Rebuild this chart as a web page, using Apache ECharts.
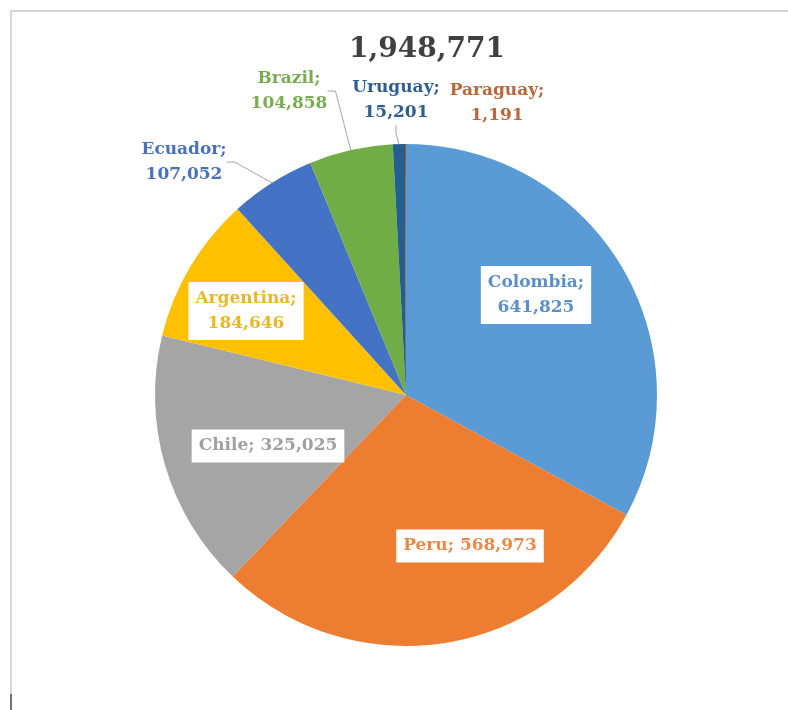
<!DOCTYPE html>
<html><head><meta charset="utf-8">
<script src="https://cdn.jsdelivr.net/npm/echarts@6/dist/echarts.min.js"></script>
<style>html,body{margin:0;padding:0;background:#fff}#c{width:788px;height:710px}</style>
</head><body><div id="c"></div>
<script>
// ---- data ----
const categories = ['Colombia', 'Peru', 'Chile', 'Argentina', 'Ecuador', 'Brazil', 'Uruguay', 'Paraguay'];
const values = [641825, 568973, 325025, 184646, 107052, 104858, 15201, 1191];
const totalText = '1,948,771';

// ---- styles ----
const sliceColors = ['#5B9BD5', '#ED7D31', '#A5A5A5', '#FFC000', '#4472C4', '#70AD47', '#255E91', '#9E480E'];
const textColors  = ['#5B8FC8', '#E98A4A', '#A0A0A0', '#E8B828', '#4A72BA', '#79AD52', '#2F5F8F', '#B8683A'];
const insideLabel = { Colombia: true, Peru: true, Chile: true, Argentina: true };
const noLeader    = { Paraguay: true };
const singleLine  = { Peru: true, Chile: true };
const labelPos = {
  Colombia: [536, 295], Peru: [470, 546], Chile: [268, 446], Argentina: [246, 311],
  Ecuador: [184, 162], Brazil: [289, 91], Uruguay: [396, 100], Paraguay: [497, 103]
};

function fmt(v) { return String(v).replace(/\B(?=(\d{3})+(?!\d))/g, ','); }

const dataItems = categories.map((name, i) => {
  const inside = !!insideLabel[name];
  return {
    name: name,
    value: values[i],
    itemStyle: { color: sliceColors[i] },
    label: Object.assign({
      position: inside ? 'inside' : 'outside',
      color: textColors[i]
    }, inside ? { backgroundColor: '#ffffff', padding: [4, 7] } : {}),
    labelLine: { show: !inside && !noLeader[name] }
  };
});

const chart = echarts.init(document.getElementById('c'), null, { renderer: 'canvas' });
chart.setOption({
  backgroundColor: '#ffffff',
  animation: false,
  title: {
    text: totalText,
    left: 344, top: 31,
    textStyle: { fontFamily: 'DejaVu Serif', fontWeight: 'bold', fontSize: 28, color: '#404040' }
  },
  graphic: [
    { type: 'polyline', shape: { points: [[11, 710], [11, 11], [788, 11]] }, style: { stroke: '#d6d6d6', lineWidth: 2, fill: null }, silent: true },
    { type: 'line', shape: { x1: 11, y1: 694, x2: 11, y2: 710 }, style: { stroke: '#707070', lineWidth: 2 }, silent: true }
  ],
  series: [{
    type: 'pie',
    center: [406, 395],
    radius: 251,
    startAngle: 90,
    clockwise: true,
    avoidLabelOverlap: false,
    itemStyle: { borderWidth: 0 },
    label: {
      fontFamily: 'DejaVu Serif', fontWeight: 'bold', fontSize: 17, lineHeight: 25,
      formatter: p => singleLine[p.name] ? p.name + '; ' + fmt(p.value) : p.name + ';\n' + fmt(p.value)
    },
    labelLine: { length: 8, length2: 8, smooth: false, lineStyle: { color: '#A6A6A6', width: 1 } },
    labelLayout: function (p) {
      const pos = labelPos[categories[p.dataIndex]];
      return { x: pos[0], y: pos[1], align: 'center', verticalAlign: 'middle' };
    },
    emphasis: { disabled: true },
    data: dataItems
  }]
});
</script></body></html>
